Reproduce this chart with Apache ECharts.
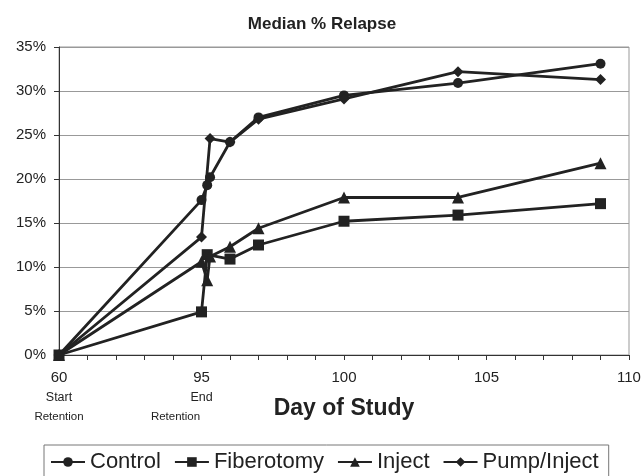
<!DOCTYPE html>
<html>
<head>
<meta charset="utf-8">
<script src="https://cdn.jsdelivr.net/npm/echarts@6/dist/echarts.min.js"></script>
<style>
  html, body { margin: 0; padding: 0; background: #fff; }
  #main { width: 644px; height: 476px; }
</style>
</head>
<body>
<div id="main"></div>
<script>
// x ticks of the study axis (the 60 -> 95 stretch is squeezed into one 5-day gap)
var tickDays = [60, 95, 100, 105, 110];
var tickNotes = ['Start\nRetention', 'End\nRetention', '', '', ''];

var controlDays = [60, 95, 95.2, 95.3, 96, 97, 100, 104, 109];
var controlVals = [0, 17.6, 19.3, 20.2, 24.2, 27.0, 29.5, 30.9, 33.1];

var fiberDays = [60, 95, 95.2, 96, 97, 100, 104, 109];
var fiberVals = [0, 4.9, 11.4, 10.9, 12.5, 15.2, 15.9, 17.2];

var injectDays = [60, 95, 95.2, 95.3, 96, 97, 100, 104, 109];
var injectVals = [0, 10.6, 8.5, 11.2, 12.3, 14.4, 17.9, 17.9, 21.8];

var pumpDays = [60, 95, 95.3, 96, 97, 100, 104, 109];
var pumpVals = [0, 13.4, 24.6, 24.2, 26.8, 29.1, 32.2, 31.3];

// broken axis: 60..95 takes 5 units (7 days each), after 95 one unit per day
function dayToPos(d) {
  return d <= 95 ? (d - 60) / 7 : 5 + (d - 95);
}

function pairs(days, vals) {
  return days.map(function (d, i) { return [dayToPos(d), vals[i]]; });
}

var font = '"Liberation Sans", Arial, sans-serif';
var ink = '#222';

function mkSeries(name, days, vals, symbol, size) {
  return {
    name: name,
    type: 'line',
    data: pairs(days, vals),
    symbol: symbol,
    symbolSize: size,
    lineStyle: { color: ink, width: 2.8 },
    itemStyle: { color: ink },
    emphasis: { disabled: true }
  };
}

var chart = echarts.init(document.getElementById('main'));
chart.setOption({
  animation: false,
  textStyle: { fontFamily: font },
  title: {
    text: 'Median % Relapse',
    left: 'center',
    top: 11,
    textStyle: { fontSize: 17, fontWeight: 'bold', color: ink, fontFamily: font }
  },
  grid: {
    left: 59, right: 15, top: 47, bottom: 121,
    show: true, borderColor: '#999', borderWidth: 1
  },
  legend: {
    left: 44,
    top: 445,
    padding: [6, 10, 12, 6],
    borderColor: '#777',
    borderWidth: 1,
    itemWidth: 34,
    itemHeight: 12,
    itemGap: 13,
    textStyle: { fontSize: 22, color: ink, fontFamily: font },
    data: ['Control', 'Fiberotomy', 'Inject', 'Pump/Inject']
  },
  xAxis: {
    type: 'value',
    min: 0,
    max: 20,
    interval: 1,
    name: 'Day of Study',
    nameLocation: 'middle',
    nameGap: 42,
    nameMoveOverlap: false,
    nameTextStyle: { fontSize: 23, fontWeight: 'bold', color: ink, fontFamily: font },
    axisLine: { lineStyle: { color: '#333', width: 1 } },
    axisTick: { show: true, length: 5, lineStyle: { color: '#333' } },
    splitLine: { show: false },
    axisLabel: {
      margin: 13,
      color: ink,
      interval: 0,
      formatter: function (v) {
        if (v % 5 !== 0) return '';
        var i = v / 5;
        var s = '{n|' + tickDays[i] + '}';
        if (tickNotes[i]) {
          var parts = tickNotes[i].split('\n');
          s += '\n{s|' + parts[0] + '}\n' + (i === 1 ? '{r2|' : '{r|') + parts[1] + '}';
        }
        return s;
      },
      rich: {
        n: { fontSize: 15, lineHeight: 20, color: ink, fontFamily: font },
        s: { fontSize: 12.5, lineHeight: 19, color: ink, fontFamily: font },
        r: { fontSize: 11.5, lineHeight: 20, color: ink, fontFamily: font },
        r2: { fontSize: 11.5, lineHeight: 20, color: ink, fontFamily: font, padding: [0, 52, 0, 0] }
      }
    }
  },
  yAxis: {
    type: 'value',
    min: 0,
    max: 35,
    interval: 5,
    axisLine: { show: true, lineStyle: { color: '#333', width: 1 } },
    axisTick: { show: true, length: 5, lineStyle: { color: '#333' } },
    splitLine: { lineStyle: { color: '#999', width: 1 } },
    axisLabel: {
      margin: 13,
      fontSize: 15,
      color: ink,
      formatter: '{value}%'
    }
  },
  series: [
    mkSeries('Control', controlDays, controlVals, 'circle', 10),
    mkSeries('Fiberotomy', fiberDays, fiberVals, 'rect', 11),
    mkSeries('Inject', injectDays, injectVals, 'triangle', 12),
    mkSeries('Pump/Inject', pumpDays, pumpVals, 'diamond', 11)
  ]
});
</script>
</body>
</html>
